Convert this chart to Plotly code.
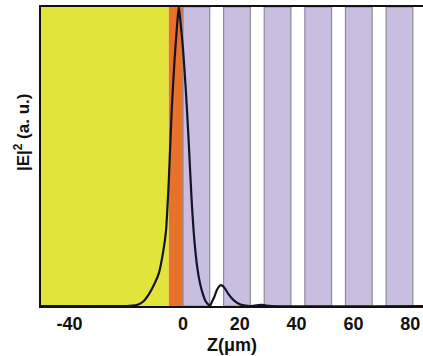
import plotly.graph_objects as go

# Data
z = [-50, -20, -18, -16, -14, -12, -10, -8.5, -7, -6, -5, -4, -3, -2, -1.5,
     -1, 0, 1, 2, 3, 4, 5, 6, 7, 8, 9, 9.5,
     10, 11, 12, 13, 13.5, 14.5, 16, 18, 20, 22, 24, 26, 27.5, 29, 31, 84.5]
e2 = [0, 0, 0.001, 0.004, 0.015, 0.04, 0.075, 0.11, 0.18, 0.25, 0.42, 0.65, 0.82, 0.95, 1.0,
      0.96, 0.86, 0.72, 0.55, 0.36, 0.22, 0.13, 0.075, 0.04, 0.015, 0.004, 0.0,
      0.01, 0.03, 0.055, 0.068, 0.07, 0.062, 0.04, 0.018, 0.006, 0.001, 0.0, 0.002, 0.004, 0.002, 0.0, 0.0]

yellow_region = [-50, -5]
orange_region = [-5, 0]
stripe_starts = [0, 14.3, 28.6, 42.9, 57.2, 71.5]
stripe_ends = [9.4, 23.7, 38.0, 52.3, 66.6, 80.9]

x_range = [-50, 84.5]
x_ticks = [-40, 0, 20, 40, 60, 80]
x_tick_labels = ["-40", "0", "20", "40", "60", "80"]

shapes = []
shapes.append(dict(type="rect", xref="x", yref="paper", x0=yellow_region[0], x1=yellow_region[1],
                   y0=0, y1=1, fillcolor="#e2e43c", line=dict(width=0), layer="below"))
shapes.append(dict(type="rect", xref="x", yref="paper", x0=orange_region[0], x1=orange_region[1],
                   y0=0, y1=1, fillcolor="#e8722a", line=dict(width=0), layer="below"))
for s, e in zip(stripe_starts, stripe_ends):
    shapes.append(dict(type="rect", xref="x", yref="paper", x0=s, x1=e, y0=0, y1=1,
                       fillcolor="#c9bee0", line=dict(color="#8e8a9c", width=1.2), layer="below"))

fig = go.Figure()
fig.add_trace(go.Scatter(x=z, y=e2, mode="lines", line=dict(color="#141428", width=2.2, shape="spline", smoothing=0.6),
                         showlegend=False, hoverinfo="skip"))

font_family = "Liberation Sans, Arial, sans-serif"
fig.update_layout(
    width=423, height=356,
    margin=dict(l=41, r=0, t=7, b=50),
    paper_bgcolor="white", plot_bgcolor="white",
    shapes=shapes,
    xaxis=dict(range=x_range, tickvals=x_ticks, ticktext=x_tick_labels, showgrid=False, zeroline=False,
               showline=True, linecolor="#111", linewidth=2, mirror=True, automargin=False,
               ticks="", tickfont=dict(family=font_family, size=18, color="#111", weight="bold")),
    yaxis=dict(range=[0, 1.0], showgrid=False, zeroline=False, showticklabels=False, automargin=False,
               showline=True, linecolor="#111", linewidth=2, ticks=""),
    annotations=[
        dict(text="|E|<sup>2</sup> (a. u.)", xref="paper", yref="paper",
             x=-0.051, y=0.58, xanchor="center", yanchor="middle", textangle=-90,
             showarrow=False, font=dict(family=font_family, size=17, color="#111", weight="bold")),
        dict(text="Z(μm)", xref="paper", yref="paper", x=0.5, y=-0.13, xanchor="center", yanchor="middle",
             showarrow=False, font=dict(family=font_family, size=18, color="#111", weight="bold")),
    ],
)

fig.write_html("out.html", config={"displayModeBar": False},
               post_script="document.body.style.margin='0';document.body.style.overflow='hidden';")
